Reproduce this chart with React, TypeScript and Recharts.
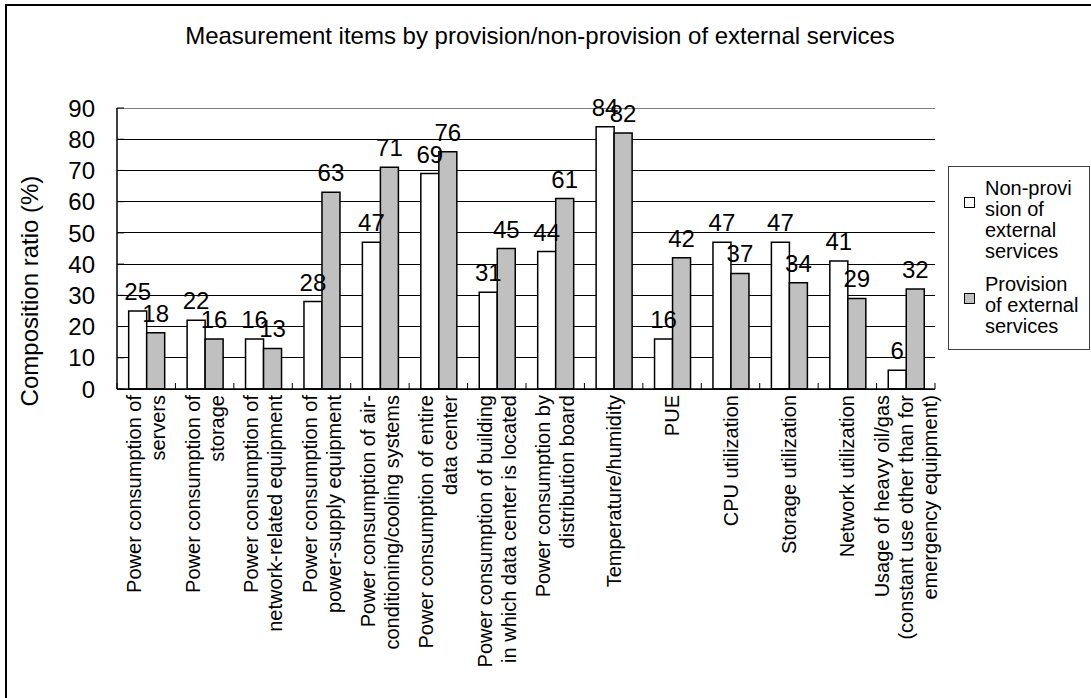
import { BarChart, Bar, XAxis, YAxis, CartesianGrid, LabelList, Legend, ReferenceLine } from "recharts";

const categories = [
  ["Power consumption of", "servers"],
  ["Power consumption of", "storage"],
  ["Power consumption of", "network-related equipment"],
  ["Power consumption of", "power-supply equipment"],
  ["Power consumption of air-", "conditioning/cooling systems"],
  ["Power consumption of entire", "data center"],
  ["Power consumption of building", "in which data center is located"],
  ["Power consumption by", "distribution board"],
  ["Temperature/humidity"],
  ["PUE"],
  ["CPU utilization"],
  ["Storage utilization"],
  ["Network utilization"],
  ["Usage of heavy oil/gas", "(constant use other than for", "emergency equipment)"],
];

const nonProvision = [25, 22, 16, 28, 47, 69, 31, 44, 84, 16, 47, 47, 41, 6];
const provision = [18, 16, 13, 63, 71, 76, 45, 61, 82, 42, 37, 34, 29, 32];

const yTicks = [0, 10, 20, 30, 40, 50, 60, 70, 80, 90];

const legendLines: Record<string, string[]> = {
  nonProvision: ["Non-provi", "sion of", "external", "services"],
  provision: ["Provision", "of external", "services"],
};

const data = categories.map((lines, i) => ({
  name: lines.join(" "),
  lines,
  nonProvision: nonProvision[i],
  provision: provision[i],
}));

const FONT = '"Liberation Sans", Arial, sans-serif';
const W = 1091;
const H = 698;
const PLOT_LEFT = 117;
const PLOT_RIGHT = 935;
const PLOT_TOP = 108;
const PLOT_BOTTOM = 389;
const BAND = (PLOT_RIGHT - PLOT_LEFT) / categories.length;

function XTick(props: any) {
  const { x, index } = props;
  const lines: string[] = categories[index] || [];
  const fs = 20;
  const lh = 24;
  const b0 = (0.51 * fs - (lines.length - 1) * lh) / 2 + 2;
  return (
    <g>
      <line x1={x - BAND / 2} x2={x - BAND / 2} y1={PLOT_BOTTOM} y2={PLOT_BOTTOM - 6} stroke="#000" />
      {index === categories.length - 1 && (
        <line x1={x + BAND / 2} x2={x + BAND / 2} y1={PLOT_BOTTOM} y2={PLOT_BOTTOM - 6} stroke="#000" />
      )}
      <g transform={`translate(${x},${PLOT_BOTTOM + 6})`}>
        <text transform="rotate(-90)" textAnchor="end" fontSize={fs} fontFamily={FONT} fill="#000">
          {lines.map((l, i) => (
            <tspan key={i} x={0} y={b0 + i * lh}>
              {l}
            </tspan>
          ))}
        </text>
      </g>
    </g>
  );
}

function YTick(props: any) {
  const { y, payload } = props;
  return (
    <g>
      <line x1={PLOT_LEFT} x2={PLOT_LEFT + 7} y1={y} y2={y} stroke="#000" />
      <text x={95} y={y} dy="0.36em" textAnchor="end" fontSize={24} fontFamily={FONT} fill="#000">
        {payload.value}
      </text>
    </g>
  );
}

function LegendBox(props: any) {
  const items = props.payload || [];
  return (
    <div
      style={{
        position: "relative",
        width: 142,
        height: 184,
        border: "1px solid #404040",
        boxSizing: "border-box",
        fontFamily: FONT,
        fontSize: 20,
        lineHeight: "21px",
        color: "#000",
      }}
    >
      {items.map((it: any, i: number) => (
        <div key={it.dataKey} style={{ position: "absolute", left: 0, top: i === 0 ? 11 : 107 }}>
          <div
            style={{
              position: "absolute",
              left: 15,
              top: 19,
              width: 11,
              height: 11,
              boxSizing: "border-box",
              border: "1px solid #000",
              background: it.color,
            }}
          />
          <div style={{ position: "absolute", left: 36, top: 0, whiteSpace: "nowrap" }}>
            {(legendLines[it.dataKey] || []).map((l) => (
              <div key={l}>{l}</div>
            ))}
          </div>
        </div>
      ))}
    </div>
  );
}

export default function App() {
  return (
    <div style={{ position: "absolute", left: 0, top: 0, width: W, height: H, overflow: "hidden", background: "#fff" }}>
      <div
        style={{
          position: "absolute",
          left: 5,
          top: 4,
          width: W + 20,
          height: H + 20,
          border: "2px solid #000",
        }}
      />
      <div
        style={{
          position: "absolute",
          left: 0,
          top: 22,
          width: 1080,
          textAlign: "center",
          fontFamily: FONT,
          fontSize: 24,
          lineHeight: "28px",
          color: "#000",
        }}
      >
        Measurement items by provision/non-provision of external services
      </div>
      <div style={{ position: "absolute", left: 0, top: 0 }}>
        <BarChart
          width={W}
          height={H}
          data={data}
          margin={{ top: PLOT_TOP, right: W - PLOT_RIGHT, bottom: 9, left: 0 }}
          barCategoryGap="20%"
          barGap={0}
        >
          <CartesianGrid vertical={false} stroke="#000" shapeRendering="crispEdges" />
          <XAxis
            dataKey="name"
            interval={0}
            height={H - 9 - PLOT_BOTTOM}
            tickLine={false}
            axisLine={{ stroke: "#000", strokeWidth: 1.5 }}
            tick={<XTick />}
          />
          <YAxis
            domain={[0, 90]}
            ticks={yTicks}
            width={PLOT_LEFT}
            tickLine={false}
            axisLine={{ stroke: "#000", strokeWidth: 1.5 }}
            tick={<YTick />}
            label={() => (
              <text
                x={38}
                y={291}
                transform="rotate(-90, 38, 291)"
                textAnchor="middle"
                fontSize={24}
                fontFamily={FONT}
                fill="#000"
              >
                Composition ratio (%)
              </text>
            )}
          />
          <YAxis
            yAxisId="frame"
            orientation="right"
            domain={[0, 90]}
            width={0}
            tick={false}
            tickLine={false}
            axisLine={{ stroke: "#808080" }}
          />
          <ReferenceLine y={90} stroke="#808080" shapeRendering="crispEdges" />
          <Legend
            layout="vertical"
            align="center"
            verticalAlign="middle"
            wrapperStyle={{ left: 948, top: 166, width: 142, height: 184 }}
            content={<LegendBox />}
          />
          <Bar
            dataKey="nonProvision"
            name="Non-provision of external services"
            fill="#ffffff"
            stroke="#000"
            strokeWidth={1.5}
            isAnimationActive={false}
          >
            <LabelList dataKey="nonProvision" position="top" offset={11} fontSize={24} fontFamily={FONT} fill="#000" />
          </Bar>
          <Bar
            dataKey="provision"
            name="Provision of external services"
            fill="#c0c0c0"
            stroke="#000"
            strokeWidth={1.5}
            isAnimationActive={false}
          >
            <LabelList dataKey="provision" position="top" offset={11} fontSize={24} fontFamily={FONT} fill="#000" />
          </Bar>
        </BarChart>
      </div>
    </div>
  );
}
